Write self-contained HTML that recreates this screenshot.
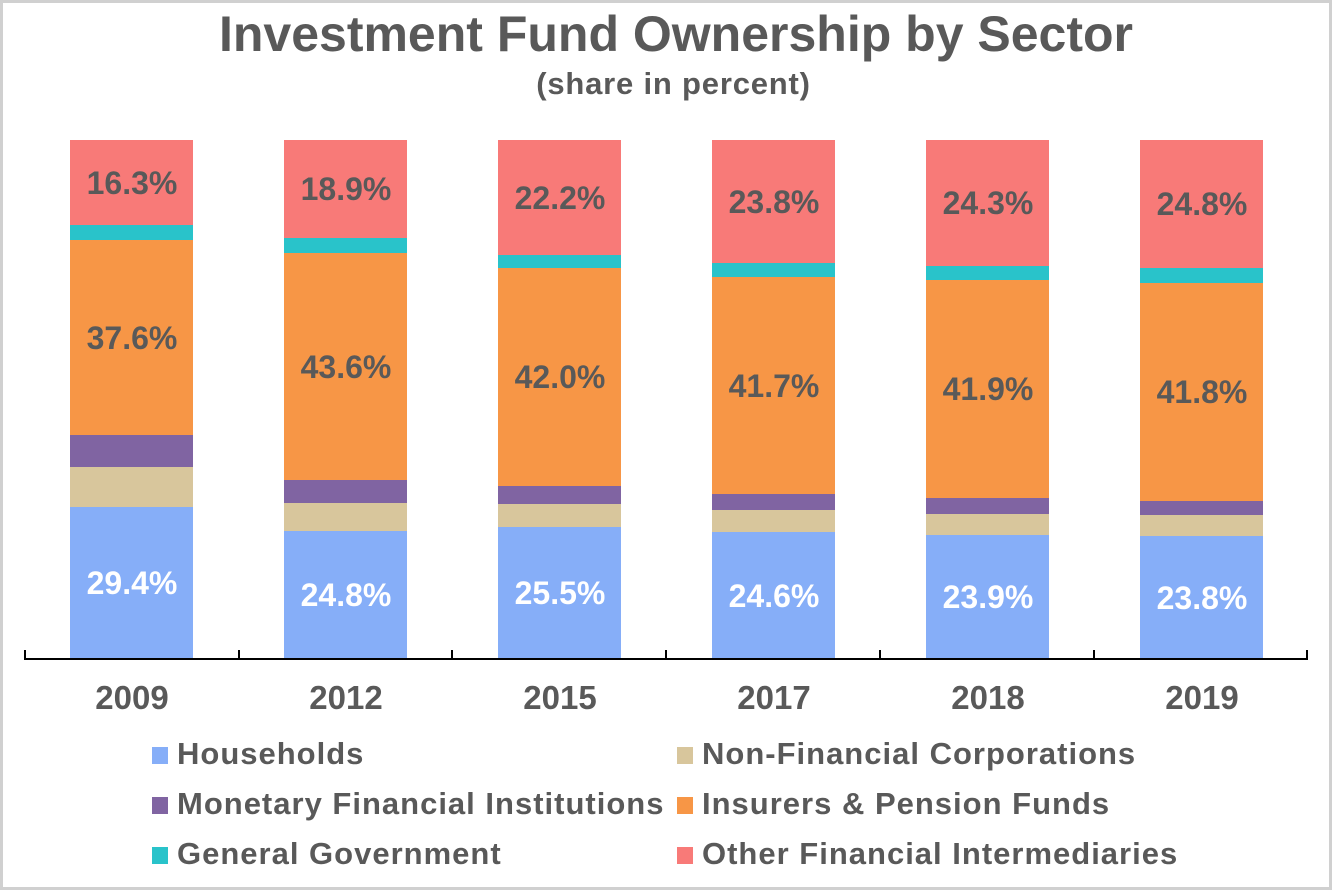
<!DOCTYPE html><html><head><style>
body{margin:0;width:1332px;height:890px;background:#fff;overflow:hidden;position:relative;font-family:"Liberation Sans",Arial,sans-serif;font-weight:bold;color:#595959}
.frame{position:absolute;left:0;top:0;width:1326px;height:884px;border:3px solid #d0d0d0}
.s{position:absolute}
.l{position:absolute;font-size:32px;width:124px;text-align:center;line-height:30px}
.t{position:absolute;font-size:33px;width:124px;text-align:center;top:680px;line-height:36px}
.lg{position:absolute;font-size:31px;line-height:38px;letter-spacing:1px}
.lg i{position:absolute;left:-25px;top:12px;width:16px;height:17px}
</style></head><body><div class="frame"></div>
<div class="s" style="left:0;width:1352px;top:5px;text-align:center;font-size:50px">Investment Fund Ownership by Sector</div>
<div class="s" style="left:0;width:1347px;top:66px;text-align:center;font-size:31px;letter-spacing:0.8px">(share in percent)</div>
<div id="bars"></div>
<div class="s" style="left:25px;top:658px;width:1283px;height:2px;background:#000"></div>
<script>
var xs=[70,284,498,712,926,1140];
var B=[[225,240,435,467,507],[238,253,480,503,531],[255,268,486,504,527],[263,277,494,510,532],[266,280,498,514,535],[268,283,501,515,536]];
var lab=[["16.3%","37.6%","29.4%"],["18.9%","43.6%","24.8%"],["22.2%","42.0%","25.5%"],["23.8%","41.7%","24.6%"],["24.3%","41.9%","23.9%"],["24.8%","41.8%","23.8%"]];
var yrs=["2009","2012","2015","2017","2018","2019"];
var cols=["#f87a78","#29c3ca","#f79646","#8064a2","#d8c69c","#86aef8"];
var h="";
for(var i=0;i<6;i++){var b=[140].concat(B[i]).concat([659]);
for(var k=0;k<6;k++)h+='<div class="s" style="left:'+xs[i]+'px;width:123px;top:'+b[k]+'px;height:'+(b[k+1]-b[k])+'px;background:'+cols[k]+'"></div>';
h+='<div class="l" style="left:'+xs[i]+'px;top:'+((b[0]+b[1])/2-15)+'px">'+lab[i][0]+'</div>';
h+='<div class="l" style="left:'+xs[i]+'px;top:'+((b[2]+b[3])/2-15)+'px">'+lab[i][1]+'</div>';
h+='<div class="l" style="left:'+xs[i]+'px;top:'+((b[5]+b[6])/2-15)+'px;color:#fff">'+lab[i][2]+'</div>';
h+='<div class="t" style="left:'+(xs[i]-10)+'px;width:144px">'+yrs[i]+'</div>';}
for(var j=0;j<7;j++)h+='<div class="s" style="left:'+(25+j*213.7-1)+'px;top:650px;width:2px;height:10px;background:#000"></div>';
document.getElementById("bars").innerHTML=h;
</script>
<div class="lg" style="left:177px;top:735px"><i style="background:#86aef8"></i>Households</div>
<div class="lg" style="left:177px;top:785px"><i style="background:#8064a2"></i>Monetary Financial Institutions</div>
<div class="lg" style="left:177px;top:835px"><i style="background:#29c3ca"></i>General Government</div>
<div class="lg" style="left:702px;top:735px"><i style="background:#d8c69c"></i>Non-Financial Corporations</div>
<div class="lg" style="left:702px;top:785px"><i style="background:#f79646"></i>Insurers &amp; Pension Funds</div>
<div class="lg" style="left:702px;top:835px"><i style="background:#f87a78"></i>Other Financial Intermediaries</div>
</body></html>
